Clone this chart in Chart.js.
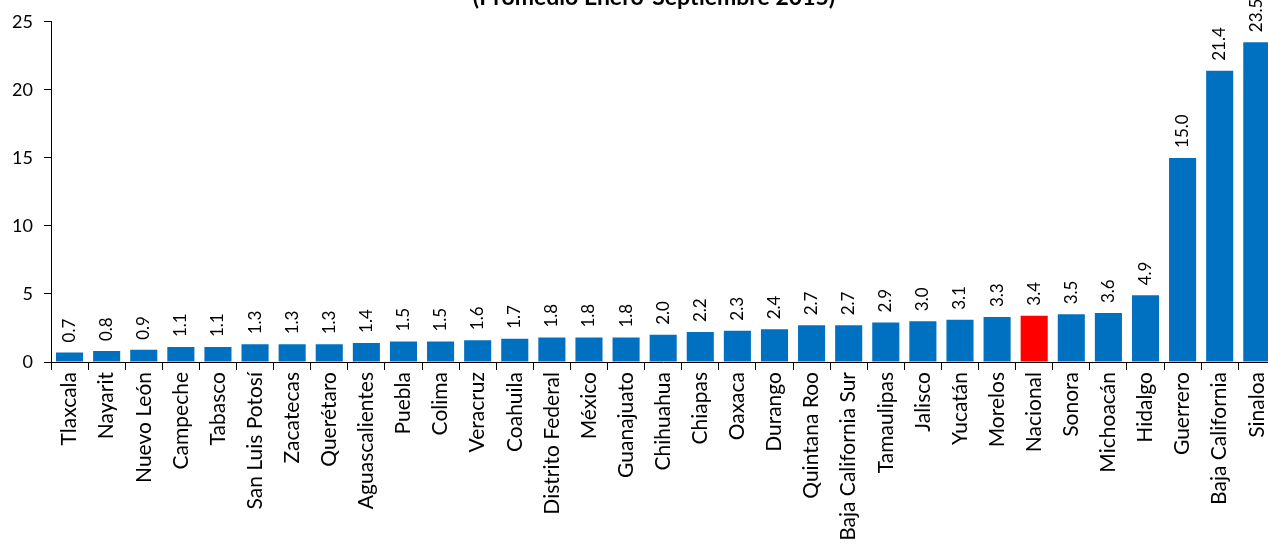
<!DOCTYPE html>
<html>
<head>
<meta charset="utf-8">
<script src="https://cdn.jsdelivr.net/npm/chart.js@4"></script>
<style>
  html, body { margin: 0; padding: 0; background: #fff; overflow: hidden; }
  #wrap { width: 1284px; height: 548px; position: relative; }
</style>
</head>
<body>
<div id="wrap"><canvas id="grafico"></canvas></div>
<script>
// Datos: promedio enero-septiembre 2015
const estados = ['Tlaxcala', 'Nayarit', 'Nuevo León', 'Campeche', 'Tabasco', 'San Luis Potosí',
    'Zacatecas', 'Querétaro', 'Aguascalientes', 'Puebla', 'Colima', 'Veracruz', 'Coahuila',
    'Distrito Federal', 'México', 'Guanajuato', 'Chihuahua', 'Chiapas', 'Oaxaca', 'Durango',
    'Quintana Roo', 'Baja California Sur', 'Tamaulipas', 'Jalisco', 'Yucatán', 'Morelos',
    'Nacional', 'Sonora', 'Michoacán', 'Hidalgo', 'Guerrero', 'Baja California', 'Sinaloa'];
const valores = [0.7, 0.8, 0.9, 1.1, 1.1, 1.3, 1.3, 1.3, 1.4, 1.5, 1.5, 1.6, 1.7, 1.8, 1.8, 1.8,
    2.0, 2.2, 2.3, 2.4, 2.7, 2.7, 2.9, 3.0, 3.1, 3.3, 3.4, 3.5, 3.6, 4.9, 15.0, 21.4, 23.5];
const ticksY = [0, 5, 10, 15, 20, 25];
const titulo = '(Promedio Enero-Septiembre 2015)';

const fuente = 'Lato, "Open Sans", sans-serif';
const colores = estados.map(e => e === 'Nacional' ? '#FF0000' : '#0070C0');

// Etiquetas de valor giradas sobre cada barra
const etiquetasValor = {
    id: 'etiquetasValor',
    afterDatasetsDraw(chart) {
        const ctx = chart.ctx;
        const meta = chart.getDatasetMeta(0);
        ctx.save();
        ctx.font = '17px ' + fuente;
        ctx.fillStyle = '#000';
        ctx.textAlign = 'left';
        ctx.textBaseline = 'middle';
        meta.data.forEach((bar, i) => {
            ctx.save();
            ctx.translate(bar.x, bar.y - 10);
            ctx.rotate(-Math.PI / 2);
            ctx.fillText(valores[i].toFixed(1), 0, 0);
            ctx.restore();
        });
        ctx.restore();
    }
};

// Título (cortado arriba como en el original)
const tituloArriba = {
    id: 'tituloArriba',
    afterDraw(chart) {
        const ctx = chart.ctx;
        ctx.save();
        ctx.font = 'bold 23px ' + fuente;
        ctx.fillStyle = '#000';
        ctx.textAlign = 'center';
        ctx.textBaseline = 'alphabetic';
        ctx.fillText(titulo, 654, 5);
        ctx.restore();
    }
};

new Chart(document.getElementById('grafico'), {
    type: 'bar',
    data: {
        labels: estados,
        datasets: [{
            data: valores,
            backgroundColor: colores,
            borderWidth: 0,
            barPercentage: 0.73,
            categoryPercentage: 1.0
        }]
    },
    options: {
        responsive: true,
        maintainAspectRatio: false,
        animation: false,
        layout: { padding: { top: 16, right: 0, left: 0, bottom: 0 } },
        plugins: { legend: { display: false }, tooltip: { enabled: false } },
        scales: {
            y: {
                min: 0,
                max: 25,
                afterBuildTicks: s => { s.ticks = ticksY.map(v => ({ value: v })); },
                afterFit: s => { s.width = 51; },
                border: { color: '#000', width: 1 },
                grid: { drawOnChartArea: false, drawTicks: true, tickLength: 7, color: '#000' },
                ticks: { color: '#000', padding: 11, font: { family: fuente, size: 18 } }
            },
            x: {
                afterFit: s => { s.height = 186; },
                border: { color: '#000', width: 1 },
                grid: { drawOnChartArea: false, drawTicks: true, tickLength: 8, color: '#000', offset: true },
                ticks: {
                    color: '#000', padding: 2, autoSkip: false,
                    minRotation: 90, maxRotation: 90,
                    font: { family: fuente, size: 21 }
                }
            }
        }
    },
    plugins: [etiquetasValor, tituloArriba]
});
</script>
</body>
</html>
